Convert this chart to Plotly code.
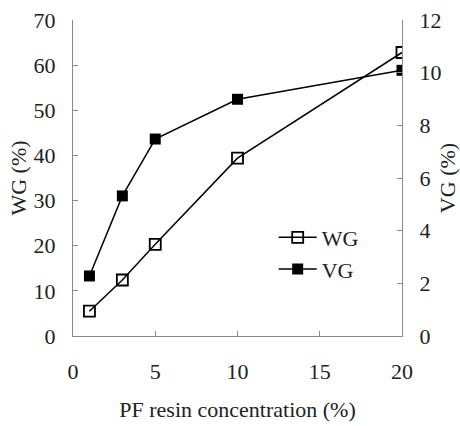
import plotly.graph_objects as go

conc = [1, 3, 5, 10, 20]
wg = [5.5, 12.4, 20.3, 39.4, 62.8]
vg = [2.28, 5.32, 7.48, 8.99, 10.09]

x_ticks = [0, 5, 10, 15, 20]
wg_ticks = [0, 10, 20, 30, 40, 50, 60, 70]
vg_ticks = [0, 2, 4, 6, 8, 10, 12]

FONT = "Liberation Serif"
AX = "#8a8a8a"
FS = 22

fig = go.Figure()
fig.add_trace(go.Scatter(
    x=conc, y=wg, name="WG", mode="lines+markers", legendgroup="a",
    line=dict(color="black", width=1.5),
    marker=dict(symbol="square-open", size=11, color="black", line=dict(width=1.8)),
))
fig.add_trace(go.Scatter(
    x=conc, y=vg, name="VG", mode="lines+markers", yaxis="y2", legendgroup="b",
    line=dict(color="black", width=1.5),
    marker=dict(symbol="square", size=11, color="black"),
))

axis_common = dict(
    showgrid=False, zeroline=False, showline=True, linecolor=AX, linewidth=1,
    ticks="inside", ticklen=5, tickcolor=AX, automargin=False,
    tickfont=dict(family=FONT, size=FS, color="#222"),
)

fig.update_layout(
    width=460, height=426,
    margin=dict(l=73, r=58, t=20, b=90),
    paper_bgcolor="white", plot_bgcolor="white",
    font=dict(family=FONT, size=FS, color="#222"),
    xaxis=dict(range=[0, 20], tickvals=x_ticks, ticklabelstandoff=16,
               title=dict(text="PF resin concentration (%)", standoff=18,
                          font=dict(family=FONT, size=FS, color="#222")),
               **axis_common),
    yaxis=dict(range=[0, 70], tickvals=wg_ticks, ticklabelstandoff=12,
               title=dict(text="WG (%)", standoff=0,
                          font=dict(family=FONT, size=FS, color="#222")),
               **axis_common),
    yaxis2=dict(range=[0, 12], tickvals=vg_ticks, overlaying="y", side="right",
                ticklabelstandoff=12,
                title=dict(text="VG (%)", standoff=4,
                           font=dict(family=FONT, size=FS, color="#222")),
                **axis_common),
    showlegend=True,
    legend=dict(x=0.61, y=0.378, xanchor="left", yanchor="top",
                bgcolor="rgba(0,0,0,0)", traceorder="grouped", tracegroupgap=0,
                itemwidth=38,
                font=dict(family=FONT, size=FS, color="#222")),
)

fig.write_html("out.html")
